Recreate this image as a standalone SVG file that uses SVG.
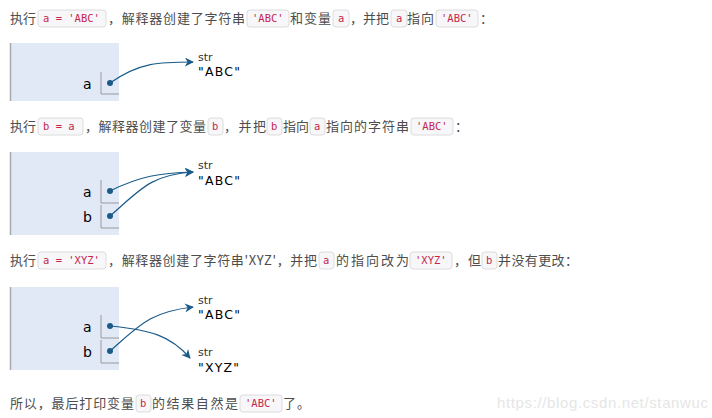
<svg xmlns="http://www.w3.org/2000/svg" width="712" height="418" viewBox="0 0 712 418">
<style>
.t{font-family:"Noto Sans CJK SC","Liberation Sans",sans-serif;font-size:13px;fill:#4d4d4d}
.c{font-family:"DejaVu Sans Mono","Liberation Mono",monospace;font-size:10.5px;fill:#c7254e}
.cb{fill:#f7f7f9;stroke:#dcdcdc;stroke-width:1}
.panel{fill:#e1e9f6}
.pl{stroke:#aaa;stroke-width:1.5}
.br{fill:none;stroke:#999;stroke-width:1}
.v{font-family:"DejaVu Sans","Liberation Sans",sans-serif;font-size:14px;fill:#000}
.s{font-family:"DejaVu Sans","Liberation Sans",sans-serif;font-size:11px;fill:#333}
.val{font-family:"DejaVu Sans","Liberation Sans",sans-serif;font-size:12.5px;letter-spacing:1.2px;fill:#000}
.ar{fill:none;stroke:#1a5b8a;stroke-width:1.2;marker-end:url(#ah)}
.dot{fill:#1a5b8a}
.wm{font-family:"Liberation Sans",sans-serif;font-size:15px;fill:#e6e6e6}
</style>
<defs>
<marker id="ah" viewBox="0 0 10 10" refX="9" refY="5" markerWidth="9" markerHeight="9" orient="auto" markerUnits="userSpaceOnUse">
<path d="M0,0 L10,5 L0,10 L3,5 z" fill="#1a5b8a"/>
</marker>
</defs>
<g id="text">
<text class="t" x="10" y="23" textLength="26">执行</text>
<rect class="cb" x="38" y="10" width="68" height="17" rx="3"/><text class="c" x="43" y="22">a = 'ABC'</text>
<text class="t" x="108" y="23" textLength="137">，解释器创建了字符串</text>
<rect class="cb" x="247" y="10" width="42" height="17" rx="3"/><text class="c" x="252" y="22">'ABC'</text>
<text class="t" x="290" y="23" textLength="41">和变量</text>
<rect class="cb" x="333" y="10" width="16" height="17" rx="3"/><text class="c" x="338" y="22">a</text>
<text class="t" x="350" y="23" textLength="39">，并把</text>
<rect class="cb" x="391" y="10" width="16" height="17" rx="3"/><text class="c" x="396" y="22">a</text>
<text class="t" x="407" y="23" textLength="27">指向</text>
<rect class="cb" x="436" y="10" width="42" height="17" rx="3"/><text class="c" x="441" y="22">'ABC'</text>
<text class="t" x="480" y="23">：</text>
<text class="t" x="10" y="131" textLength="26">执行</text>
<rect class="cb" x="38" y="118" width="45" height="17" rx="3"/><text class="c" x="43" y="130">b = a</text>
<text class="t" x="85" y="131" textLength="121">，解释器创建了变量</text>
<rect class="cb" x="208" y="118" width="15" height="17" rx="3"/><text class="c" x="212" y="130">b</text>
<text class="t" x="224" y="131" textLength="42">，并把</text>
<rect class="cb" x="267" y="118" width="15" height="17" rx="3"/><text class="c" x="271" y="130">b</text>
<text class="t" x="283" y="131" textLength="26">指向</text>
<rect class="cb" x="310" y="118" width="15" height="17" rx="3"/><text class="c" x="314" y="130">a</text>
<text class="t" x="326" y="131" textLength="83">指向的字符串</text>
<rect class="cb" x="411" y="118" width="42" height="17" rx="3"/><text class="c" x="416" y="130">'ABC'</text>
<text class="t" x="455" y="131">：</text>
<text class="t" x="10" y="265" textLength="26">执行</text>
<rect class="cb" x="38" y="252" width="68" height="17" rx="3"/><text class="c" x="43" y="264">a = 'XYZ'</text>
<text class="t" x="108" y="265" textLength="209">，解释器创建了字符串'XYZ'，并把</text>
<rect class="cb" x="319" y="252" width="15" height="17" rx="3"/><text class="c" x="323" y="264">a</text>
<text class="t" x="336" y="265" textLength="73">的指向改为</text>
<rect class="cb" x="410" y="252" width="42" height="17" rx="3"/><text class="c" x="415" y="264">'XYZ'</text>
<text class="t" x="454" y="265" textLength="27">，但</text>
<rect class="cb" x="482" y="252" width="15" height="17" rx="3"/><text class="c" x="486" y="264">b</text>
<text class="t" x="498" y="265" textLength="80">并没有更改：</text>
<text class="t" x="10" y="408" textLength="124">所以，最后打印变量</text>
<rect class="cb" x="136" y="395" width="15" height="17" rx="3"/><text class="c" x="140" y="407">b</text>
<text class="t" x="152" y="408" textLength="86">的结果自然是</text>
<rect class="cb" x="240" y="395" width="42" height="17" rx="3"/><text class="c" x="245" y="407">'ABC'</text>
<text class="t" x="283" y="408" textLength="27">了。</text>
<text class="wm" x="497" y="408" textLength="211">https://blog.csdn.net/stanwuc</text>
</g>
<g id="frame1">
<rect class="panel" x="10" y="43" width="109" height="58"/>
<line class="pl" x1="10.5" y1="43" x2="10.5" y2="101"/>
<text class="v" x="83" y="89">a</text>
<polyline class="br" points="101,72 101,94 119,94"/>
</g>
<g id="obj1"><text class="s" x="198" y="61">str</text><text class="val" x="198" y="76">"ABC"</text></g>
<g id="frame2">
<rect class="panel" x="10" y="152" width="109" height="83"/>
<line class="pl" x1="10.5" y1="152" x2="10.5" y2="235"/>
<text class="v" x="83" y="197">a</text>
<text class="v" x="83" y="222">b</text>
<polyline class="br" points="101,180 101,203 119,203"/>
<polyline class="br" points="101,205 101,228 119,228"/>
</g>
<g id="obj2"><text class="s" x="198" y="169">str</text><text class="val" x="198" y="185">"ABC"</text></g>
<g id="frame3">
<rect class="panel" x="10" y="287" width="109" height="83"/>
<line class="pl" x1="10.5" y1="287" x2="10.5" y2="370"/>
<text class="v" x="83" y="332">a</text>
<text class="v" x="83" y="357">b</text>
<polyline class="br" points="101,315 101,338 119,338"/>
<polyline class="br" points="101,340 101,363 119,363"/>
</g>
<g id="obj3a"><text class="s" x="198" y="304">str</text><text class="val" x="198" y="319">"ABC"</text></g>
<g id="obj3b"><text class="s" x="198" y="356">str</text><text class="val" x="198" y="372">"XYZ"</text></g>
<g id="connectors">
<circle class="dot" cx="110" cy="83" r="3"/>
<path class="ar" d="M110,83 C140,62 160,62 193,62"/>
<circle class="dot" cx="110" cy="191" r="3"/>
<path class="ar" d="M110,191 C140,176 160,173 193,172"/>
<circle class="dot" cx="110" cy="216" r="3"/>
<path class="ar" d="M110,216 C140,190 150,175 193,172"/>
<circle class="dot" cx="110" cy="326" r="3"/>
<path class="ar" d="M110,326 C150,330 170,335 190,358"/>
<circle class="dot" cx="110" cy="351" r="3"/>
<path class="ar" d="M110,351 C140,325 150,312 193,307"/>
</g>
</svg>
